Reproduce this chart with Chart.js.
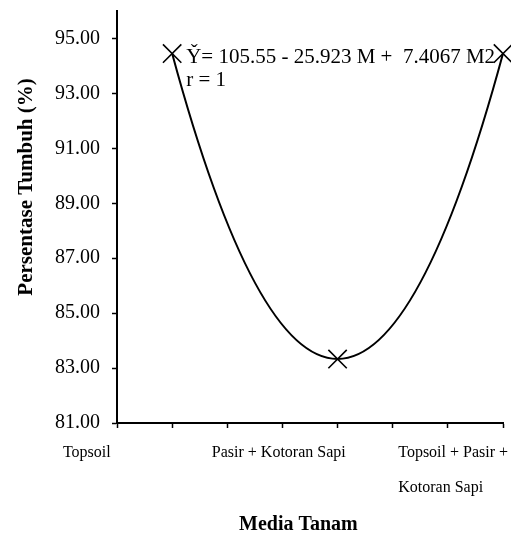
<!DOCTYPE html>
<html>
<head>
<meta charset="utf-8">
<script src="https://cdn.jsdelivr.net/npm/chart.js@4/dist/chart.umd.min.js"></script>
<style>
  html, body { margin: 0; padding: 0; background: #ffffff; }
  #wrap { width: 511px; height: 545px; position: relative; }
</style>
</head>
<body>
<div id="wrap"><canvas id="c" width="511" height="545"></canvas></div>
<script>
// ---- data ----
const categories = ['Topsoil', 'Pasir + Kotoran Sapi', 'Topsoil + Pasir + Kotoran Sapi'];
const categoryLabelLines = [['Topsoil'], ['Pasir + Kotoran Sapi'], ['Topsoil + Pasir +', 'Kotoran Sapi']];
const growthPercent = [94.45, 83.33, 94.45];
const yTickValues = [81, 83, 85, 87, 89, 91, 93, 95];
const xTickValues = [0, 1, 2, 3, 4, 5, 6, 7];
const equationLines = ['Y\u030C= 105.55 - 25.923 M +  7.4067 M2', 'r = 1'];
const yTitle = 'Persentase Tumbuh (%)';
const xTitle = 'Media Tanam';

// ---- layout helpers (not data) ----
const SERIF = "'Times New Roman', 'Liberation Serif', serif";
const labelStart = [-0.98, 1.72, 5.10];   // where each category label begins on the x scale
const pointX = (i) => 1 + 3 * i;          // category index -> x scale position

const points = growthPercent.map((v, i) => ({ x: pointX(i), y: v }));

const parabolaPlugin = {
  id: 'parabolaCurve',
  beforeDatasetDraw(chart, args) {
    const meta = args.meta;
    const line = meta.dataset;
    const p = meta.data;
    if (!line || p.length !== 3) return;
    line.updateControlPoints(chart.chartArea, 'x');
    const [a, b, c] = p;
    const d = (x) =>
      a.y * (2 * x - b.x - c.x) / ((a.x - b.x) * (a.x - c.x)) +
      b.y * (2 * x - a.x - c.x) / ((b.x - a.x) * (b.x - c.x)) +
      c.y * (2 * x - a.x - b.x) / ((c.x - a.x) * (c.x - b.x));
    for (let i = 0; i < 2; i++) {
      const s = p[i], t = p[i + 1];
      const qx = (s.x + t.x) / 2;
      const qy = s.y + d(s.x) * (t.x - s.x) / 2;
      s.cp2x = s.x + 2 / 3 * (qx - s.x); s.cp2y = s.y + 2 / 3 * (qy - s.y);
      t.cp1x = t.x + 2 / 3 * (qx - t.x); t.cp1y = t.y + 2 / 3 * (qy - t.y);
    }
  }
};

const textPlugin = {
  id: 'texts',
  afterDraw(chart) {
    const ctx = chart.ctx;
    const area = chart.chartArea;
    const first = chart.getDatasetMeta(0).data[0];
    ctx.save();
    ctx.fillStyle = '#000';
    ctx.font = '21px ' + SERIF;
    ctx.textAlign = 'left';
    ctx.textBaseline = 'alphabetic';
    ctx.fillText(equationLines[0], first.x + 14, first.y + 9);
    ctx.fillText(equationLines[1], first.x + 14, first.y + 32);
    // y title
    ctx.font = 'bold 21px ' + SERIF;
    ctx.textAlign = 'center';
    ctx.textBaseline = 'middle';
    ctx.save();
    ctx.translate(27, area.top + (area.bottom - area.top) * 0.427);
    ctx.rotate(-Math.PI / 2);
    ctx.fillText(yTitle, 0, 0);
    ctx.restore();
    // x title
    ctx.font = 'bold 20px ' + SERIF;
    ctx.fillText(xTitle, area.left + (area.right - area.left) * 0.47, 525);
    ctx.restore();
  }
};

new Chart(document.getElementById('c'), {
  type: 'line',
  data: {
    datasets: [{
      label: 'Persentase Tumbuh',
      data: points,
      borderColor: '#000',
      borderWidth: 2,
      tension: 0.4,
      fill: false,
      clip: false,
      pointStyle: 'crossRot',
      pointRadius: 13,
      pointHoverRadius: 13,
      pointBorderColor: '#000',
      pointBackgroundColor: '#000',
      pointBorderWidth: 1.6
    }]
  },
  options: {
    responsive: false,
    animation: false,
    events: [],
    layout: { autoPadding: false, padding: { left: 0, right: 8, top: 11, bottom: 0 } },
    plugins: { legend: { display: false }, tooltip: { enabled: false } },
    scales: {
      x: {
        type: 'linear',
        min: 0,
        max: 7,
        bounds: 'data',
        afterBuildTicks(scale) {
          const t = xTickValues.map(v => ({ value: v, major: false }));
          const labelTicks = labelStart.map((v, i) => ({ value: v, catIndex: i }));
          scale.ticks = [t[0]].concat(labelTicks, t.slice(1));
        },
        afterFit(scale) {
          scale.height = 122;
          scale.paddingLeft = 0;
          scale.paddingRight = 0;
        },
        border: { display: true, color: '#000', width: 2 },
        grid: {
          display: true,
          drawOnChartArea: false,
          drawTicks: true,
          tickLength: 5,
          tickWidth: 1.5,
          tickColor: (ctx) => (ctx.tick && ctx.tick.catIndex === undefined) ? '#000' : 'rgba(0,0,0,0)'
        },
        ticks: {
          autoSkip: false,
          maxRotation: 0,
          minRotation: 0,
          align: 'start',
          padding: 7,
          color: '#000',
          font: { family: SERIF, size: 16, lineHeight: 2.2 },
          callback: function (value, index, ticks) {
            const t = ticks[index];
            return (t && t.catIndex !== undefined) ? categoryLabelLines[t.catIndex] : [];
          }
        }
      },
      y: {
        type: 'linear',
        min: 81,
        max: 96,
        bounds: 'data',
        afterBuildTicks(scale) {
          scale.ticks = yTickValues.map(v => ({ value: v })).concat([{ value: 96, top: true }]);
        },
        afterFit(scale) {
          scale.width = 117;
          scale.paddingTop = 0;
          scale.paddingBottom = 0;
        },
        border: { display: true, color: '#000', width: 2 },
        grid: {
          display: true,
          drawOnChartArea: false,
          drawTicks: true,
          tickLength: 5,
          tickWidth: 1.5,
          tickColor: (ctx) => (ctx.tick && ctx.tick.top) ? 'rgba(0,0,0,0)' : '#000'
        },
        ticks: {
          autoSkip: false,
          padding: 12,
          color: '#000',
          font: { family: SERIF, size: 20 },
          callback: function (value, index, ticks) {
            const t = ticks[index];
            return (t && t.top) ? [] : Number(value).toFixed(2);
          }
        }
      }
    }
  },
  plugins: [parabolaPlugin, textPlugin]
});
</script>
</body>
</html>
